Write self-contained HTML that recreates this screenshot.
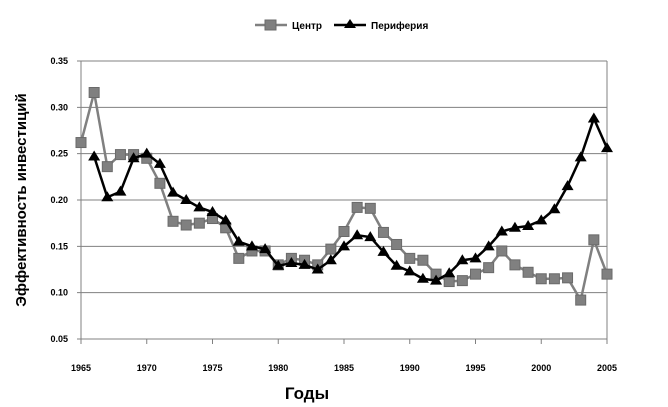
<!DOCTYPE html>
<html><head><meta charset="utf-8"><style>
body{margin:0;background:#fff;}
svg{display:block;font-family:"Liberation Sans",sans-serif;}
</style></head><body>
<svg id="chart" width="668" height="407">
<g id="grid"></g>
<g id="axes"></g>
<g id="series"></g>
<g>
 <line x1="255" y1="25" x2="287" y2="25" stroke="#808080" stroke-width="2.5"/>
 <rect x="265" y="20" width="11" height="10" fill="#808080" stroke="#6a6a6a"/>
 <text x="292" y="29" font-size="10" font-weight="bold">Центр</text>
 <line x1="334" y1="25" x2="366" y2="25" stroke="#000" stroke-width="2.5"/>
 <polygon points="350,19 356,28 344,28" fill="#000"/>
 <text x="371" y="29" font-size="10" font-weight="bold">Периферия</text>
</g>
<text x="307" y="399" font-size="17" font-weight="bold" text-anchor="middle">Годы</text>
<text transform="translate(26,200) rotate(-90)" font-size="15" font-weight="bold" text-anchor="middle">Эффективность инвестиций</text>
</svg>
<script>
const years = [1965,1966,1967,1968,1969,1970,1971,1972,1973,1974,1975,1976,1977,1978,1979,1980,1981,1982,1983,1984,1985,1986,1987,1988,1989,1990,1991,1992,1993,1994,1995,1996,1997,1998,1999,2000,2001,2002,2003,2004,2005];
const center = [.262,.316,.236,.249,.249,.245,.218,.177,.173,.175,.180,.170,.137,.145,.145,.130,.137,.135,.130,.147,.166,.192,.191,.165,.152,.137,.135,.120,.112,.113,.120,.127,.145,.130,.122,.115,.115,.116,.092,.157,.120];
const periphery = [null,.247,.203,.209,.245,.250,.239,.208,.200,.192,.187,.178,.155,.150,.147,.129,.132,.130,.125,.135,.150,.162,.160,.144,.129,.123,.115,.113,.121,.135,.137,.150,.166,.170,.172,.178,.190,.215,.246,.288,.256];
const yTicks = [0.05,0.10,0.15,0.20,0.25,0.30,0.35];
const xTicks = [1965,1970,1975,1980,1985,1990,1995,2000,2005];
const X0=81,X1=607,Y0=339,Y1=61;
const xs = v => X0+(v-1965)/(2005-1965)*(X1-X0);
const ys = v => Y0-(v-0.05)/(0.35-0.05)*(Y0-Y1);
const NS="http://www.w3.org/2000/svg";
function mk(p,t,a){const e=document.createElementNS(NS,t);for(const k in a)e.setAttribute(k,a[k]);p.appendChild(e);return e;}
const grid=document.getElementById('grid'),axes=document.getElementById('axes'),ser=document.getElementById('series');
yTicks.forEach(v=>{
 const l=mk(grid,'line',{x1:X0-4,x2:X1,y1:ys(v),y2:ys(v),stroke:'#808080','stroke-width':1});
 
 
 const t=mk(axes,'text',{x:X0-13,y:ys(v)+3,'font-size':9,'font-weight':'bold','text-anchor':'end'});
 t.textContent=v.toFixed(2);
 
 
});
mk(axes,'line',{x1:X0,x2:X0,y1:Y1,y2:Y0,stroke:'#808080'});
mk(axes,'line',{x1:X1,x2:X1,y1:Y1,y2:Y0,stroke:'#808080'});
xTicks.forEach(v=>{
 mk(axes,'line',{x1:xs(v),x2:xs(v),y1:Y0,y2:Y0+5,stroke:'#808080'});
 const t=mk(axes,'text',{x:xs(v),y:371,'font-size':9,'font-weight':'bold','text-anchor':'middle'});
 t.textContent=v;
 
 
});
function draw(vals,color,shape,name){
 const pts=[];vals.forEach((v,i)=>{if(v!=null)pts.push([xs(years[i]),ys(v)]);});
 const pl=mk(ser,'polyline',{points:pts.map(p=>p.join(',')).join(' '),fill:'none',stroke:color,'stroke-width':2.5,'stroke-linejoin':'round'});
 
 
 pts.forEach(([x,y])=>{
  let m;
  if(shape==='sq') m=mk(ser,'rect',{x:x-5,y:y-5,width:10,height:10,fill:'#808080',stroke:'#6a6a6a'});
  else m=mk(ser,'polygon',{points:`${x},${y-6} ${x+6},${y+4} ${x-6},${y+4}`,fill:'#000'});
  
  
 });
}
draw(center,'#808080','sq','center');
draw(periphery,'#000','tri','periphery');
</script>
</body></html>
